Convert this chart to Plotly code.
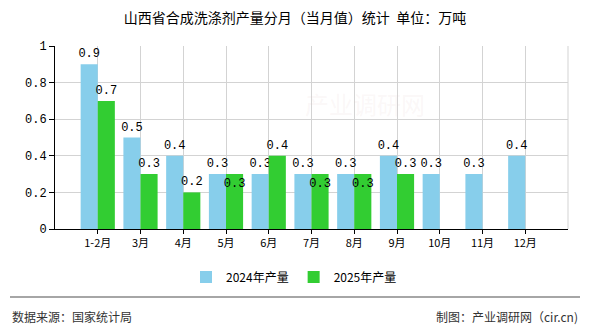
import plotly.graph_objects as go

categories = ["1-2月", "3月", "4月", "5月", "6月", "7月", "8月", "9月", "10月", "11月", "12月"]
values_2024 = [0.9, 0.5, 0.4, 0.3, 0.3, 0.3, 0.3, 0.4, 0.3, 0.3, 0.4]
values_2025 = [0.7, 0.3, 0.2, 0.3, 0.4, 0.3, 0.3, 0.3, None, None, None]
y_ticks = [0, 0.2, 0.4, 0.6, 0.8, 1]
y_tick_text = ["0", "0.2", "0.4", "0.6", "0.8", "1"]

title = "山西省合成洗涤剂产量分月（当月值）统计  单位：万吨"
source_text = "数据来源：国家统计局"
credit_text = "制图：产业调研网（cir.cn)"

num_font = "Liberation Mono, DejaVu Sans Mono, monospace"
cjk_font = "Noto Sans CJK SC, sans-serif"

# green labels that would collide with an equal-height blue label go inside the bar top
pos_2025 = []
for a, b in zip(values_2024, values_2025):
    if b is not None and a == b:
        pos_2025.append("inside")
    else:
        pos_2025.append("outside")

fig = go.Figure()
fig.add_trace(go.Bar(
    x=categories, y=values_2024, name="2024年产量",
    marker=dict(color="#87CEEB", line=dict(width=0)),
    text=[f"{v}" for v in values_2024], textposition="outside", textangle=0,
    textfont=dict(family=num_font, size=12, color="#000"),
    constraintext="none", cliponaxis=False,
))
fig.add_trace(go.Bar(
    x=categories, y=values_2025, name="2025年产量",
    marker=dict(color="#32CD32", line=dict(width=0)),
    text=[("" if v is None else f"{v}") for v in values_2025], textposition=pos_2025,
    insidetextanchor="end", textangle=0,
    textfont=dict(family=num_font, size=12, color="#000"),
    insidetextfont=dict(family=num_font, size=12, color="#000"),
    outsidetextfont=dict(family=num_font, size=12, color="#000"),
    constraintext="none", cliponaxis=False,
))

fig.update_layout(
    width=590, height=330, autosize=False,
    margin=dict(l=55, r=22, t=46, b=101, autoexpand=False),
    paper_bgcolor="white", plot_bgcolor="white",
    barmode="group", bargap=0.2, bargroupgap=0,
    title=dict(text=title, x=0.5, xref="container", xanchor="center", y=1 - 18 / 330, yanchor="middle",
               font=dict(family=cjk_font, size=14, color="#000")),
    showlegend=True,
    legend=dict(orientation="h", x=(294 - 55) / 513, xanchor="center",
                y=-48 / 183, yanchor="middle",
                font=dict(family=cjk_font, size=12, color="#000"),
                tracegroupgap=0),
    xaxis=dict(
        type="category", range=[-1, 11], automargin=False,
        showgrid=True, gridcolor="#d3d3d3", gridwidth=1,
        showline=True, linecolor="#000", linewidth=1,
        ticks="outside", ticklen=4, tickcolor="#000", tickangle=0,
        tickfont=dict(family=cjk_font, size=11, color="#000"),
        zeroline=False, fixedrange=True,
    ),
    yaxis=dict(
        range=[0, 1], tickvals=y_ticks, ticktext=y_tick_text, automargin=False,
        showgrid=True, gridcolor="#d3d3d3", gridwidth=1,
        showline=True, linecolor="#000", linewidth=1,
        ticks="outside", ticklen=5, tickcolor="#000",
        tickfont=dict(family=num_font, size=12, color="#000"),
        zeroline=False, fixedrange=True,
    ),
    shapes=[
        dict(type="line", xref="paper", yref="paper", x0=1, x1=1, y0=0, y1=1,
             line=dict(color="#d3d3d3", width=1), layer="below"),
        dict(type="line", xref="paper", yref="paper", x0=-45 / 513, x1=525 / 513,
             y0=-68 / 183, y1=-68 / 183, line=dict(color="#888", width=1.5)),
    ],
    annotations=[
        dict(text=source_text, xref="paper", yref="paper", x=-45 / 513, y=-87 / 183,
             xanchor="left", yanchor="middle", showarrow=False,
             font=dict(family=cjk_font, size=12, color="#333")),
        dict(text=credit_text, xref="paper", yref="paper", x=525 / 513, y=-87 / 183,
             xanchor="right", yanchor="middle", showarrow=False,
             font=dict(family=cjk_font, size=12, color="#333")),
        dict(text="产业调研网", xref="paper", yref="paper", x=(365 - 55) / 513, y=(229 - 103) / 183,
             xanchor="center", yanchor="middle", showarrow=False,
             font=dict(family=cjk_font, size=24, color="rgba(230,200,200,0.15)")),
    ],
)

fig.write_html("out.html")
